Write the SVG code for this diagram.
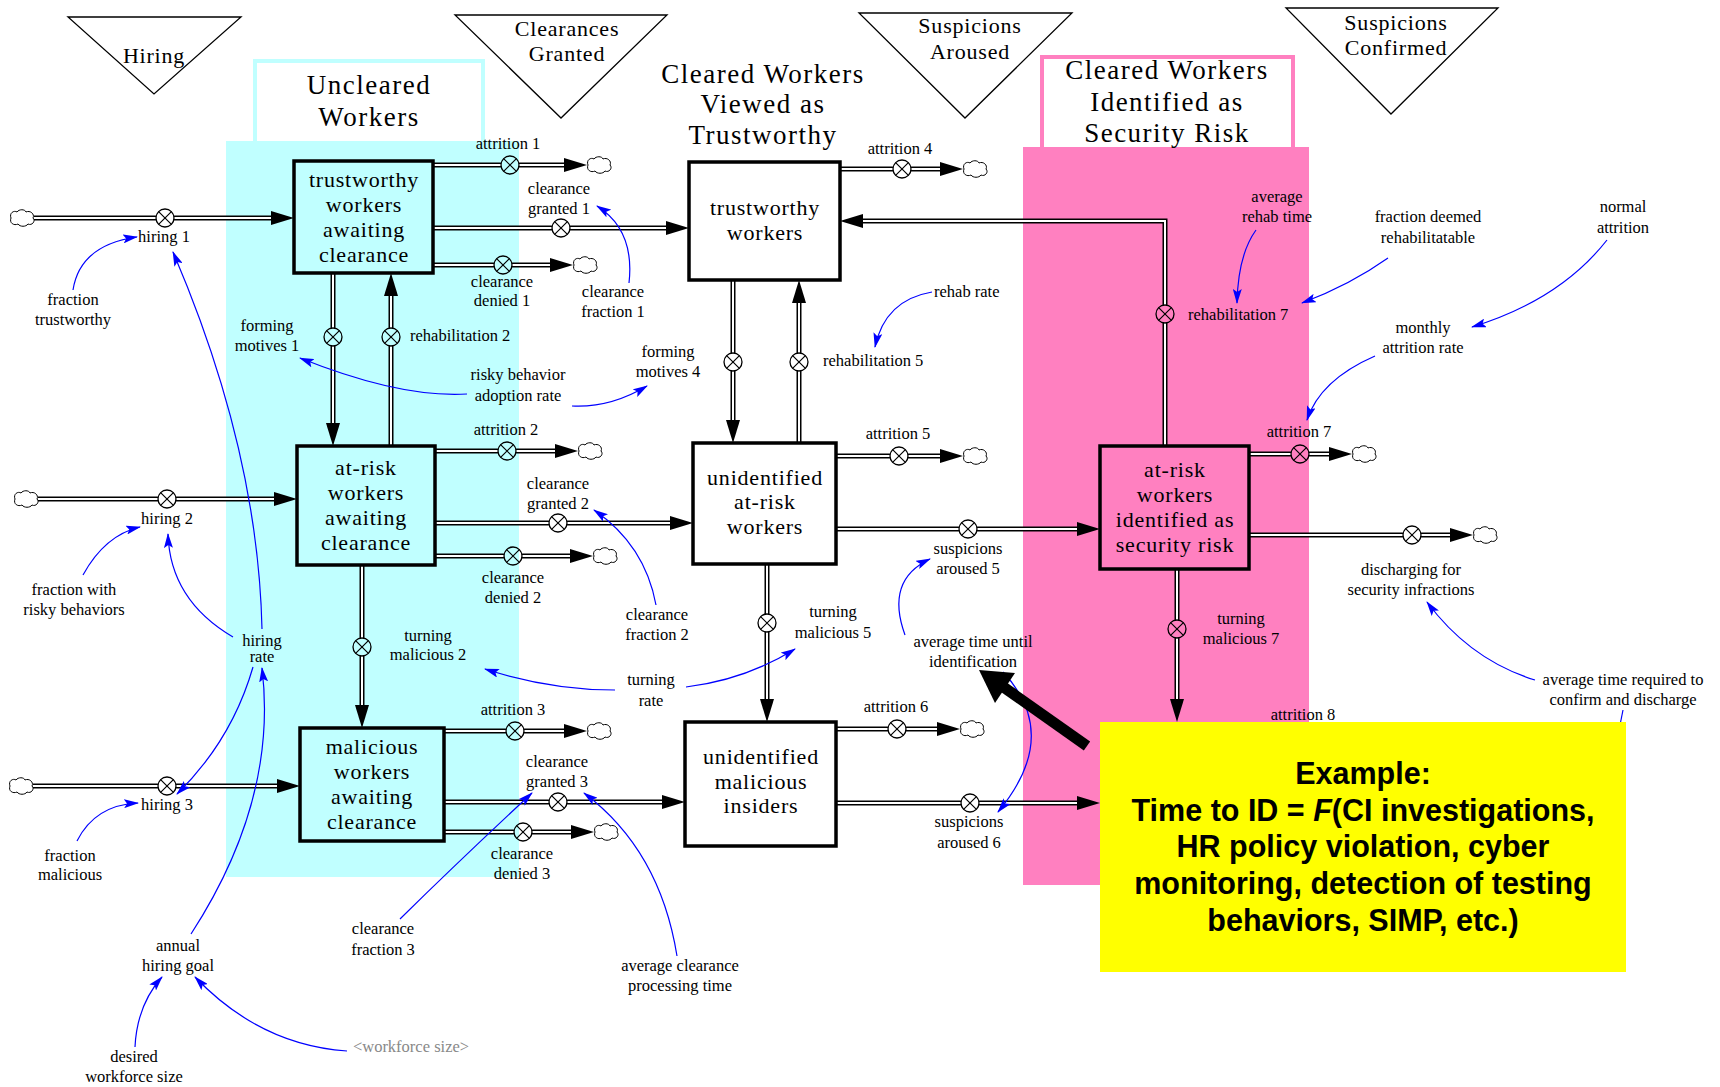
<svg xmlns="http://www.w3.org/2000/svg" width="1720" height="1087" viewBox="0 0 1720 1087">
<defs>
<style>
.sec-c{fill:#c0ffff}
.sec-p{fill:#ff80c0}
.hdr-c{fill:#fff;stroke:#c0ffff;stroke-width:4}
.hdr-p{fill:#fff;stroke:#ff80c0;stroke-width:4}
.tri{fill:#fff;stroke:#000;stroke-width:1.3}
.big{font-family:"Liberation Serif","Times New Roman",serif;font-size:27px;letter-spacing:1.5px;text-anchor:middle;fill:#000}
.ttl{font-family:"Liberation Serif","Times New Roman",serif;font-size:22px;letter-spacing:0.8px;text-anchor:middle;fill:#000}
.stock rect{stroke:#000;stroke-width:3.5;fill:#fff}
.stock.c rect{fill:#c0ffff}
.stock.p rect{fill:#ff80c0}
.stock text{font-family:"Liberation Serif","Times New Roman",serif;font-size:22px;letter-spacing:0.8px;text-anchor:middle;fill:#000}
.po{fill:none;stroke:#000;stroke-width:5;stroke-linejoin:miter}
.pi{fill:none;stroke:#fff;stroke-width:2;stroke-linejoin:miter}
.ah{fill:#000}
.vc{fill:none;stroke:#000;stroke-width:1.3}
.vx{fill:none;stroke:#000;stroke-width:1.2}
.cloud{fill:#fff;stroke:#000;stroke-width:1}
.lbl{font-family:"Liberation Serif","Times New Roman",serif;font-size:16.5px;text-anchor:middle;fill:#000}
.lbl.st{text-anchor:start}
.lbl.shadow{fill:#888}
.link{fill:none;stroke:#0000ff;stroke-width:1.2;marker-end:url(#lh)}
.note{font-family:"Liberation Sans",Arial,sans-serif;font-size:30.5px;font-weight:bold;text-anchor:middle;fill:#000}
</style>
<marker id="lh" markerWidth="15" markerHeight="9" refX="14" refY="4.5" orient="auto" markerUnits="userSpaceOnUse">
<path d="M0,0 L15,4.5 L0,9 L3,4.5 Z" fill="#0000ff"/>
</marker>
<path id="cloud" class="cloud" d="M1,0 C-1,-5 4,-8 7,-6 C9,-9 15,-9 16,-6 C20,-8 25,-4 23,0 C26,3 22,8 18,6 C16,9 10,9 8,6 C4,8 -1,5 1,0 Z"/>
<g id="valve-x"><circle class="vc" r="9"/><path class="vx" d="M-6.4,-6.4 L6.4,6.4 M-6.4,6.4 L6.4,-6.4"/></g>
</defs>

<!-- sector backgrounds -->
<rect class="sec-c" x="226" y="141" width="293" height="736"/>
<rect class="hdr-c" x="255" y="61" width="228" height="82"/>
<rect class="sec-c" x="226" y="141" width="293" height="6"/>
<rect class="sec-p" x="1023" y="147" width="286" height="738"/>
<rect class="hdr-p" x="1042" y="57" width="251" height="92"/>
<rect class="sec-p" x="1023" y="147" width="286" height="6"/>

<!-- sector titles -->
<g id="title-uncleared"><text class="big"><tspan x="369" y="94">Uncleared</tspan><tspan x="369" y="126">Workers</tspan></text></g>
<g id="title-trustworthy"><text class="big"><tspan x="763" y="83">Cleared Workers</tspan><tspan x="763" y="113">Viewed as</tspan><tspan x="763" y="144">Trustworthy</tspan></text></g>
<g id="title-risk"><text class="big"><tspan x="1167" y="79">Cleared Workers</tspan><tspan x="1167" y="111">Identified as</tspan><tspan x="1167" y="142">Security Risk</tspan></text></g>

<!-- stage markers -->
<g id="stage-hiring"><polygon class="tri" points="68,17 241,17 154,94"/><text class="ttl" x="154" y="63">Hiring</text></g>
<g id="stage-granted"><polygon class="tri" points="455,15 667,15 561,118"/><text class="ttl"><tspan x="567" y="36">Clearances</tspan><tspan x="567" y="61">Granted</tspan></text></g>
<g id="stage-aroused"><polygon class="tri" points="859,13 1072,13 965,118"/><text class="ttl"><tspan x="970" y="33">Suspicions</tspan><tspan x="970" y="59">Aroused</tspan></text></g>
<g id="stage-confirmed"><polygon class="tri" points="1286,8 1498,8 1391,114"/><text class="ttl"><tspan x="1396" y="30">Suspicions</tspan><tspan x="1396" y="55">Confirmed</tspan></text></g>

<g id="connectors">
<!-- material flow pipes -->
<g id="pipes">
<path class="po" d="M34 218H156M174 218H272"/><path class="pi" d="M34 218H156M174 218H272"/>
<path class="po" d="M38 499H158M176 499H275"/><path class="pi" d="M38 499H158M176 499H275"/>
<path class="po" d="M33 786H158M176 786H278"/><path class="pi" d="M33 786H158M176 786H278"/>
<path class="po" d="M433 165H501M519 165H565"/><path class="pi" d="M433 165H501M519 165H565"/>
<path class="po" d="M433 228H552M570 228H667"/><path class="pi" d="M433 228H552M570 228H667"/>
<path class="po" d="M433 265H494M512 265H551"/><path class="pi" d="M433 265H494M512 265H551"/>
<path class="po" d="M435 451H498M516 451H556"/><path class="pi" d="M435 451H498M516 451H556"/>
<path class="po" d="M435 523H549M567 523H671"/><path class="pi" d="M435 523H549M567 523H671"/>
<path class="po" d="M435 556H504M522 556H571"/><path class="pi" d="M435 556H504M522 556H571"/>
<path class="po" d="M444 731H506M524 731H565"/><path class="pi" d="M444 731H506M524 731H565"/>
<path class="po" d="M444 802H549M567 802H663"/><path class="pi" d="M444 802H549M567 802H663"/>
<path class="po" d="M444 832H514M532 832H572"/><path class="pi" d="M444 832H514M532 832H572"/>
<path class="po" d="M840 169H893M911 169H941"/><path class="pi" d="M840 169H893M911 169H941"/>
<path class="po" d="M836 456H890M908 456H941"/><path class="pi" d="M836 456H890M908 456H941"/>
<path class="po" d="M836 529H959M977 529H1078"/><path class="pi" d="M836 529H959M977 529H1078"/>
<path class="po" d="M836 729H888M906 729H938"/><path class="pi" d="M836 729H888M906 729H938"/>
<path class="po" d="M836 803H961M979 803H1078"/><path class="pi" d="M836 803H961M979 803H1078"/>
<path class="po" d="M1249 454H1291M1309 454H1330"/><path class="pi" d="M1249 454H1291M1309 454H1330"/>
<path class="po" d="M1249 535H1403M1421 535H1451"/><path class="pi" d="M1249 535H1403M1421 535H1451"/>
<path class="po" d="M333 273V328M333 346V424"/><path class="pi" d="M333 273V328M333 346V424"/>
<path class="po" d="M391 446V346M391 328V295"/><path class="pi" d="M391 446V346M391 328V295"/>
<path class="po" d="M362 565V638M362 656V706"/><path class="pi" d="M362 565V638M362 656V706"/>
<path class="po" d="M733 280V353M733 371V421"/><path class="pi" d="M733 280V353M733 371V421"/>
<path class="po" d="M799 443V371M799 353V302"/><path class="pi" d="M799 443V371M799 353V302"/>
<path class="po" d="M767 564V614M767 632V700"/><path class="pi" d="M767 564V614M767 632V700"/>
<path class="po" d="M1177 569V620M1177 638V700"/><path class="pi" d="M1177 569V620M1177 638V700"/>
<path class="po" d="M1165 446V323M1165 305V221H862"/><path class="pi" d="M1165 446V323M1165 305V221H862"/>
</g>
<!-- flow arrowheads -->
<g id="flow-heads" class="ah">
<polygon points="294,218 271,211 271,225"/>
<polygon points="297,499 274,492 274,506"/>
<polygon points="300,786 277,779 277,793"/>
<polygon points="587,165 564,158 564,172"/>
<polygon points="689,228 666,221 666,235"/>
<polygon points="573,265 550,258 550,272"/>
<polygon points="578,451 555,444 555,458"/>
<polygon points="693,523 670,516 670,530"/>
<polygon points="593,556 570,549 570,563"/>
<polygon points="587,731 564,724 564,738"/>
<polygon points="685,802 662,795 662,809"/>
<polygon points="594,832 571,825 571,839"/>
<polygon points="963,169 940,162 940,176"/>
<polygon points="963,456 940,449 940,463"/>
<polygon points="1100,529 1077,522 1077,536"/>
<polygon points="960,729 937,722 937,736"/>
<polygon points="1100,803 1077,796 1077,810"/>
<polygon points="1352,454 1329,447 1329,461"/>
<polygon points="1473,535 1450,528 1450,542"/>
<polygon points="333,446 326,423 340,423"/>
<polygon points="362,728 355,705 369,705"/>
<polygon points="733,443 726,420 740,420"/>
<polygon points="767,722 760,699 774,699"/>
<polygon points="1177,722 1170,699 1184,699"/>
<polygon points="391,273 384,296 398,296"/>
<polygon points="799,280 792,303 806,303"/>
<polygon points="840,221 863,214 863,228"/>
</g>
<!-- information links -->
<g id="links">
<path class="link" d="M73 290 Q80 245 137 237"/>
<path class="link" d="M262 629 Q258 450 173 252"/>
<path class="link" d="M83 575 Q105 535 140 527"/>
<path class="link" d="M233 637 Q170 600 168 534"/>
<path class="link" d="M253 667 Q232 740 177 794"/>
<path class="link" d="M191 934 Q278 800 262 668"/>
<path class="link" d="M77 841 Q95 805 138 803"/>
<path class="link" d="M135 1047 Q137 1005 162 977"/>
<path class="link" d="M347 1051 Q260 1045 195 977"/>
<path class="link" d="M467 394 Q400 398 300 358"/>
<path class="link" d="M572 406 Q610 408 647 386"/>
<path class="link" d="M629 283 Q635 230 597 206"/>
<path class="link" d="M656 605 Q645 545 594 510"/>
<path class="link" d="M400 919 Q460 860 532 793"/>
<path class="link" d="M677 956 Q660 850 584 793"/>
<path class="link" d="M615 690 Q550 690 485 669"/>
<path class="link" d="M686 687 Q745 680 795 649"/>
<path class="link" d="M932 292 Q885 300 875 347"/>
<path class="link" d="M1256 230 Q1238 255 1237 303"/>
<path class="link" d="M1388 258 Q1350 285 1302 303"/>
<path class="link" d="M1607 240 Q1560 300 1472 327"/>
<path class="link" d="M1375 356 Q1320 380 1307 420"/>
<path class="link" d="M905 635 Q885 580 930 559"/>
<path class="link" d="M1003 672 Q1062 735 998 812"/>
<path class="link" d="M1535 680 Q1470 660 1427 602"/>
<path d="M1623 710 L1619 730" fill="none" stroke="#0000ff" stroke-width="1.2"/>
</g>
</g>

<!-- sources and sinks -->
<g id="clouds">
<use href="#cloud" x="10" y="218"/>
<use href="#cloud" x="14" y="499"/>
<use href="#cloud" x="9" y="786"/>
<use href="#cloud" x="587" y="165"/>
<use href="#cloud" x="573" y="265"/>
<use href="#cloud" x="578" y="451"/>
<use href="#cloud" x="593" y="556"/>
<use href="#cloud" x="587" y="731"/>
<use href="#cloud" x="594" y="832"/>
<use href="#cloud" x="963" y="169"/>
<use href="#cloud" x="963" y="456"/>
<use href="#cloud" x="960" y="729"/>
<use href="#cloud" x="1352" y="454"/>
<use href="#cloud" x="1473" y="535"/>
</g>

<!-- stocks -->
<g id="stock-trustworthy-awaiting" class="stock c"><rect x="294" y="161" width="139" height="112"/><text><tspan x="364" y="187">trustworthy</tspan><tspan x="364" y="212">workers</tspan><tspan x="364" y="237">awaiting</tspan><tspan x="364" y="262">clearance</tspan></text></g>
<g id="stock-atrisk-awaiting" class="stock c"><rect x="297" y="446" width="138" height="119"/><text><tspan x="366" y="475">at-risk</tspan><tspan x="366" y="500">workers</tspan><tspan x="366" y="525">awaiting</tspan><tspan x="366" y="550">clearance</tspan></text></g>
<g id="stock-malicious-awaiting" class="stock c"><rect x="300" y="728" width="144" height="113"/><text><tspan x="372" y="754">malicious</tspan><tspan x="372" y="779">workers</tspan><tspan x="372" y="804">awaiting</tspan><tspan x="372" y="829">clearance</tspan></text></g>
<g id="stock-trustworthy" class="stock"><rect x="689" y="162" width="151" height="118"/><text><tspan x="765" y="215">trustworthy</tspan><tspan x="765" y="240">workers</tspan></text></g>
<g id="stock-unidentified-atrisk" class="stock"><rect x="693" y="443" width="143" height="121"/><text><tspan x="765" y="485">unidentified</tspan><tspan x="765" y="509">at-risk</tspan><tspan x="765" y="534">workers</tspan></text></g>
<g id="stock-unidentified-malicious" class="stock"><rect x="685" y="722" width="151" height="124"/><text><tspan x="761" y="764">unidentified</tspan><tspan x="761" y="789">malicious</tspan><tspan x="761" y="813">insiders</tspan></text></g>
<g id="stock-identified-risk" class="stock p"><rect x="1100" y="446" width="149" height="123"/><text><tspan x="1175" y="477">at-risk</tspan><tspan x="1175" y="502">workers</tspan><tspan x="1175" y="527">identified as</tspan><tspan x="1175" y="552">security risk</tspan></text></g>

<!-- flow valves with names -->
<g id="flow-hiring1"><use href="#valve-x" x="165" y="218"/><text class="lbl" x="164" y="242">hiring 1</text></g>
<g id="flow-hiring2"><use href="#valve-x" x="167" y="499"/><text class="lbl" x="167" y="524">hiring 2</text></g>
<g id="flow-hiring3"><use href="#valve-x" x="167" y="786"/><text class="lbl" x="167" y="810">hiring 3</text></g>
<g id="flow-attrition1"><use href="#valve-x" x="510" y="165"/><text class="lbl" x="508" y="149">attrition 1</text></g>
<g id="flow-granted1"><use href="#valve-x" x="561" y="228"/><text class="lbl"><tspan x="559" y="194">clearance</tspan><tspan x="559" y="214">granted 1</tspan></text></g>
<g id="flow-denied1"><use href="#valve-x" x="503" y="265"/><text class="lbl"><tspan x="502" y="287">clearance</tspan><tspan x="502" y="306">denied 1</tspan></text></g>
<g id="flow-attrition2"><use href="#valve-x" x="507" y="451"/><text class="lbl" x="506" y="435">attrition 2</text></g>
<g id="flow-granted2"><use href="#valve-x" x="558" y="523"/><text class="lbl"><tspan x="558" y="489">clearance</tspan><tspan x="558" y="509">granted 2</tspan></text></g>
<g id="flow-denied2"><use href="#valve-x" x="513" y="556"/><text class="lbl"><tspan x="513" y="583">clearance</tspan><tspan x="513" y="603">denied 2</tspan></text></g>
<g id="flow-attrition3"><use href="#valve-x" x="515" y="731"/><text class="lbl" x="513" y="715">attrition 3</text></g>
<g id="flow-granted3"><use href="#valve-x" x="558" y="802"/><text class="lbl"><tspan x="557" y="767">clearance</tspan><tspan x="557" y="787">granted 3</tspan></text></g>
<g id="flow-denied3"><use href="#valve-x" x="523" y="832"/><text class="lbl"><tspan x="522" y="859">clearance</tspan><tspan x="522" y="879">denied 3</tspan></text></g>
<g id="flow-attrition4"><use href="#valve-x" x="902" y="169"/><text class="lbl" x="900" y="154">attrition 4</text></g>
<g id="flow-attrition5"><use href="#valve-x" x="899" y="456"/><text class="lbl" x="898" y="439">attrition 5</text></g>
<g id="flow-aroused5"><use href="#valve-x" x="968" y="529"/><text class="lbl"><tspan x="968" y="554">suspicions</tspan><tspan x="968" y="574">aroused 5</tspan></text></g>
<g id="flow-attrition6"><use href="#valve-x" x="897" y="729"/><text class="lbl" x="896" y="712">attrition 6</text></g>
<g id="flow-aroused6"><use href="#valve-x" x="970" y="803"/><text class="lbl"><tspan x="969" y="827">suspicions</tspan><tspan x="969" y="848">aroused 6</tspan></text></g>
<g id="flow-attrition7"><use href="#valve-x" x="1300" y="454"/><text class="lbl" x="1299" y="437">attrition 7</text></g>
<g id="flow-discharging"><use href="#valve-x" x="1412" y="535"/><text class="lbl"><tspan x="1411" y="575">discharging for</tspan><tspan x="1411" y="595">security infractions</tspan></text></g>
<g id="flow-motives1"><use href="#valve-x" x="333" y="337"/><text class="lbl"><tspan x="267" y="331">forming</tspan><tspan x="267" y="351">motives 1</tspan></text></g>
<g id="flow-rehab2"><use href="#valve-x" x="391" y="337"/><text class="lbl st" x="410" y="341">rehabilitation 2</text></g>
<g id="flow-turning2"><use href="#valve-x" x="362" y="647"/><text class="lbl"><tspan x="428" y="641">turning</tspan><tspan x="428" y="660">malicious 2</tspan></text></g>
<g id="flow-motives4"><use href="#valve-x" x="733" y="362"/><text class="lbl"><tspan x="668" y="357">forming</tspan><tspan x="668" y="377">motives 4</tspan></text></g>
<g id="flow-rehab5"><use href="#valve-x" x="799" y="362"/><text class="lbl st" x="823" y="366">rehabilitation 5</text></g>
<g id="flow-turning5"><use href="#valve-x" x="767" y="623"/><text class="lbl"><tspan x="833" y="617">turning</tspan><tspan x="833" y="638">malicious 5</tspan></text></g>
<g id="flow-turning7"><use href="#valve-x" x="1177" y="629"/><text class="lbl"><tspan x="1241" y="624">turning</tspan><tspan x="1241" y="644">malicious 7</tspan></text></g>
<g id="flow-rehab7"><use href="#valve-x" x="1165" y="314"/><text class="lbl st" x="1188" y="320">rehabilitation 7</text></g>
<g id="flow-attrition8"><text class="lbl" x="1303" y="720">attrition 8</text></g>

<!-- auxiliary variables -->
<g id="aux-fraction-trustworthy"><text class="lbl"><tspan x="73" y="305">fraction</tspan><tspan x="73" y="325">trustworthy</tspan></text></g>
<g id="aux-fraction-risky"><text class="lbl"><tspan x="74" y="595">fraction with</tspan><tspan x="74" y="615">risky behaviors</tspan></text></g>
<g id="aux-hiring-rate"><text class="lbl"><tspan x="262" y="646">hiring</tspan><tspan x="262" y="662">rate</tspan></text></g>
<g id="aux-fraction-malicious"><text class="lbl"><tspan x="70" y="861">fraction</tspan><tspan x="70" y="880">malicious</tspan></text></g>
<g id="aux-annual-goal"><text class="lbl"><tspan x="178" y="951">annual</tspan><tspan x="178" y="971">hiring goal</tspan></text></g>
<g id="aux-desired-size"><text class="lbl"><tspan x="134" y="1062">desired</tspan><tspan x="134" y="1082">workforce size</tspan></text></g>
<g id="aux-workforce-size"><text class="lbl shadow" x="411" y="1052">&lt;workforce size&gt;</text></g>
<g id="aux-fraction3"><text class="lbl"><tspan x="383" y="934">clearance</tspan><tspan x="383" y="955">fraction 3</tspan></text></g>
<g id="aux-processing-time"><text class="lbl"><tspan x="680" y="971">average clearance</tspan><tspan x="680" y="991">processing time</tspan></text></g>
<g id="aux-fraction1"><text class="lbl"><tspan x="613" y="297">clearance</tspan><tspan x="613" y="317">fraction 1</tspan></text></g>
<g id="aux-fraction2"><text class="lbl"><tspan x="657" y="620">clearance</tspan><tspan x="657" y="640">fraction 2</tspan></text></g>
<g id="aux-risky-adoption"><text class="lbl"><tspan x="518" y="380">risky behavior</tspan><tspan x="518" y="401">adoption rate</tspan></text></g>
<g id="aux-turning-rate"><text class="lbl"><tspan x="651" y="685">turning</tspan><tspan x="651" y="706">rate</tspan></text></g>
<g id="aux-rehab-rate"><text class="lbl st" x="934" y="297">rehab rate</text></g>
<g id="aux-rehab-time"><text class="lbl"><tspan x="1277" y="202">average</tspan><tspan x="1277" y="222">rehab time</tspan></text></g>
<g id="aux-fraction-rehab"><text class="lbl"><tspan x="1428" y="222">fraction deemed</tspan><tspan x="1428" y="243">rehabilitatable</tspan></text></g>
<g id="aux-normal-attrition"><text class="lbl"><tspan x="1623" y="212">normal</tspan><tspan x="1623" y="233">attrition</tspan></text></g>
<g id="aux-monthly-attrition"><text class="lbl"><tspan x="1423" y="333">monthly</tspan><tspan x="1423" y="353">attrition rate</tspan></text></g>
<g id="aux-time-identification"><text class="lbl"><tspan x="973" y="647">average time until</tspan><tspan x="973" y="667">identification</tspan></text></g>
<g id="aux-time-confirm"><text class="lbl"><tspan x="1623" y="685">average time required to</tspan><tspan x="1623" y="705">confirm and discharge</tspan></text></g>

<!-- callout -->
<g id="callout">
<rect x="1100" y="722" width="526" height="250" fill="#ffff00"/>
<text class="note"><tspan x="1363" y="784">Example:</tspan><tspan x="1363" y="821">Time to ID = <tspan font-style="italic">F</tspan>(CI investigations,</tspan><tspan x="1363" y="857">HR policy violation, cyber</tspan><tspan x="1363" y="894">monitoring, detection of testing</tspan><tspan x="1363" y="931">behaviors, SIMP, etc.)</tspan></text>
<line x1="1087" y1="746" x2="1002" y2="686" stroke="#000" stroke-width="11"/>
<polygon points="979,670 1015,673 995,703" fill="#000"/>
</g>
</svg>
